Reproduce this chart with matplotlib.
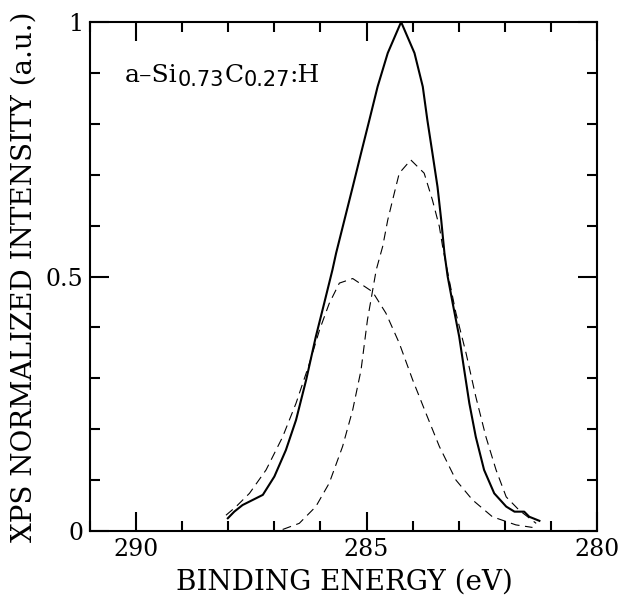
# %% Section 0: Import packages

import matplotlib
matplotlib.use("Agg")
import matplotlib.pyplot as plt
from matplotlib.ticker import MultipleLocator, FixedLocator


# %% Section 1: Data

# Measured spectrum (solid line)
e_meas = [288.01, 287.87, 287.69, 287.47, 287.25, 287.00, 286.75, 286.53,
          286.31, 286.10, 285.92, 285.74, 285.66, 285.48, 285.30, 285.12,
          284.94, 284.76, 284.54, 284.25, 283.96, 283.78, 283.68, 283.57,
          283.46, 283.38, 283.31, 283.24, 283.13, 282.99, 282.88, 282.77,
          282.63, 282.45, 282.23, 281.97, 281.79, 281.58, 281.47, 281.25]
i_meas = [0.025, 0.038, 0.051, 0.061, 0.071, 0.107, 0.159, 0.218,
          0.297, 0.382, 0.447, 0.513, 0.546, 0.611, 0.676, 0.742,
          0.807, 0.873, 0.939, 1.000, 0.939, 0.873, 0.807, 0.742,
          0.676, 0.611, 0.546, 0.500, 0.447, 0.382, 0.316, 0.251,
          0.185, 0.120, 0.074, 0.048, 0.038, 0.038, 0.028, 0.020]

# Broad fitted component (dashed)
e_broad = [288.05, 287.83, 287.54, 287.18, 286.82, 286.53, 286.24, 286.02,
           285.81, 285.59, 285.30, 284.87, 284.58, 284.29, 284.00, 283.71,
           283.42, 283.06, 282.70, 282.27, 281.76, 281.40]
i_broad = [0.031, 0.048, 0.074, 0.120, 0.185, 0.251, 0.329, 0.395,
           0.447, 0.487, 0.496, 0.470, 0.428, 0.369, 0.297, 0.231,
           0.166, 0.100, 0.061, 0.028, 0.012, 0.007]

# Narrow fitted component (dashed)
e_narrow = [286.82, 286.46, 286.10, 285.81, 285.52, 285.30, 285.12, 284.98,
            284.79, 284.65, 284.54, 284.40, 284.29, 284.04, 283.75, 283.57,
            283.42, 283.35, 283.20, 283.06, 282.84, 282.63, 282.41, 282.19,
            281.97, 281.69, 281.32]
i_narrow = [0.003, 0.015, 0.048, 0.094, 0.166, 0.238, 0.316, 0.415,
            0.513, 0.559, 0.611, 0.663, 0.703, 0.729, 0.703, 0.650,
            0.598, 0.559, 0.490, 0.428, 0.349, 0.264, 0.185, 0.120,
            0.067, 0.041, 0.015]

x_ticks = [290, 285, 280]
y_ticks = [0, 0.5, 1]
y_ticklabels = ["0", "0.5", "1"]

# Sample label, split into (text, is_subscript)
sample_parts = [("a\u2013Si", False), ("0.73", True), ("C", False),
                ("0.27", True), (":H", False)]


# %% Section 2: Plot

plt.rcParams["font.family"] = "DejaVu Serif"

fig = plt.figure(figsize=(6.21, 5.96), dpi=100)
ax = fig.add_axes([90 / 621, 65 / 596, 507 / 621, 509 / 596])

ax.plot(e_meas, i_meas, color="black", linewidth=1.5)
ax.plot(e_broad, i_broad, color="black", linewidth=0.8, linestyle=(0, (8, 5)))
ax.plot(e_narrow, i_narrow, color="black", linewidth=0.8, linestyle=(0, (8, 5)))

ax.set_xlim(291, 280)
ax.set_ylim(0, 1)

ax.xaxis.set_major_locator(FixedLocator(x_ticks))
ax.xaxis.set_minor_locator(MultipleLocator(1))
ax.yaxis.set_major_locator(FixedLocator(y_ticks))
ax.yaxis.set_minor_locator(MultipleLocator(0.1))
ax.set_yticklabels(y_ticklabels)

ax.tick_params(which="both", direction="in", top=True, right=True,
               labelsize=17, width=1.5, colors="black")
ax.tick_params(which="major", length=14)
ax.tick_params(which="minor", length=7)
ax.tick_params(axis="x", pad=5)
ax.tick_params(axis="y", pad=5)

for spine in ax.spines.values():
    spine.set_linewidth(1.5)

fig.text(344.5 / 621, 1 - 590 / 596, "BINDING ENERGY (eV)",
         fontsize=20, ha="center", va="baseline")
fig.text(24 / 621, 1 - 277 / 596, "XPS NORMALIZED INTENSITY (a.u.)",
         fontsize=20, ha="center", va="center", rotation=90)

# Sample label, pieces placed one after another in pixel coordinates
fig.canvas.draw()
renderer = fig.canvas.get_renderer()
x_px, base_px = 125, 596 - 82
for part, is_sub in sample_parts:
    if is_sub:
        t = fig.text(x_px / 621, (base_px - 4) / 596, part, fontsize=15,
                     family="DejaVu Sans", va="baseline", ha="left")
    else:
        t = fig.text(x_px / 621, base_px / 596, part, fontsize=18,
                     va="baseline", ha="left")
    x_px = t.get_window_extent(renderer).x1

fig.savefig("out.png", dpi=100)
